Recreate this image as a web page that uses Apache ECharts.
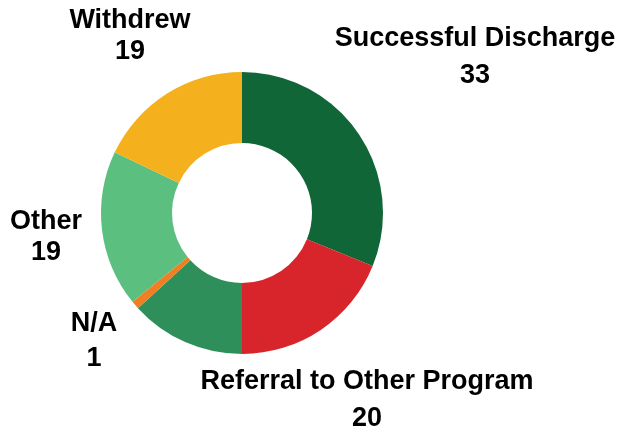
<!DOCTYPE html>
<html>
<head>
<meta charset="utf-8">
<script src="https://cdn.jsdelivr.net/npm/echarts@6/dist/echarts.min.js"></script>
<style>html,body{margin:0;padding:0;background:#fff;}#c{width:618px;height:429px;}</style>
</head>
<body>
<div id="c"></div>
<script>
const categories = ['Successful Discharge', 'Referral to Other Program', 'Unlabeled', 'N/A', 'Other', 'Withdrew'];
const values = [33, 20, 14, 1, 19, 19];
const showLabel = [true, true, false, true, true, true];
const colors = ['#106636', '#D8242B', '#2E8F5A', '#EF7F22', '#5BBF80', '#F5B11D'];
// label block centres (text positions only)
const labelCenters = [[475, 57], [367, 400], [0, 0], [94, 341], [46, 237], [130, 36]];
const labelLineHeights = [37, 37, 33, 35, 31, 31];

const chart = echarts.init(document.getElementById('c'), null, {renderer: 'canvas'});
chart.setOption({
  animation: false,
  backgroundColor: '#ffffff',
  series: [{
    type: 'pie',
    center: [242, 213],
    radius: [70, 141],
    startAngle: 90,
    clockwise: true,
    avoidLabelOverlap: false,
    label: {
      show: true,
      position: 'outside',
      formatter: '{b}\n{c}',
      fontFamily: 'Liberation Sans, Arial, sans-serif',
      fontWeight: 'bold',
      fontSize: 27,
      color: '#000',
      align: 'center'
    },
    labelLine: {show: false},
    labelLayout: function (p) {
      const c = labelCenters[p.dataIndex];
      return {x: c[0], y: c[1], align: 'center', verticalAlign: 'middle'};
    },
    emphasis: {disabled: true},
    data: categories.map((n, i) => ({
      name: n,
      value: values[i],
      itemStyle: {color: colors[i]},
      label: {show: showLabel[i], lineHeight: labelLineHeights[i]}
    }))
  }]
});
</script>
</body>
</html>
